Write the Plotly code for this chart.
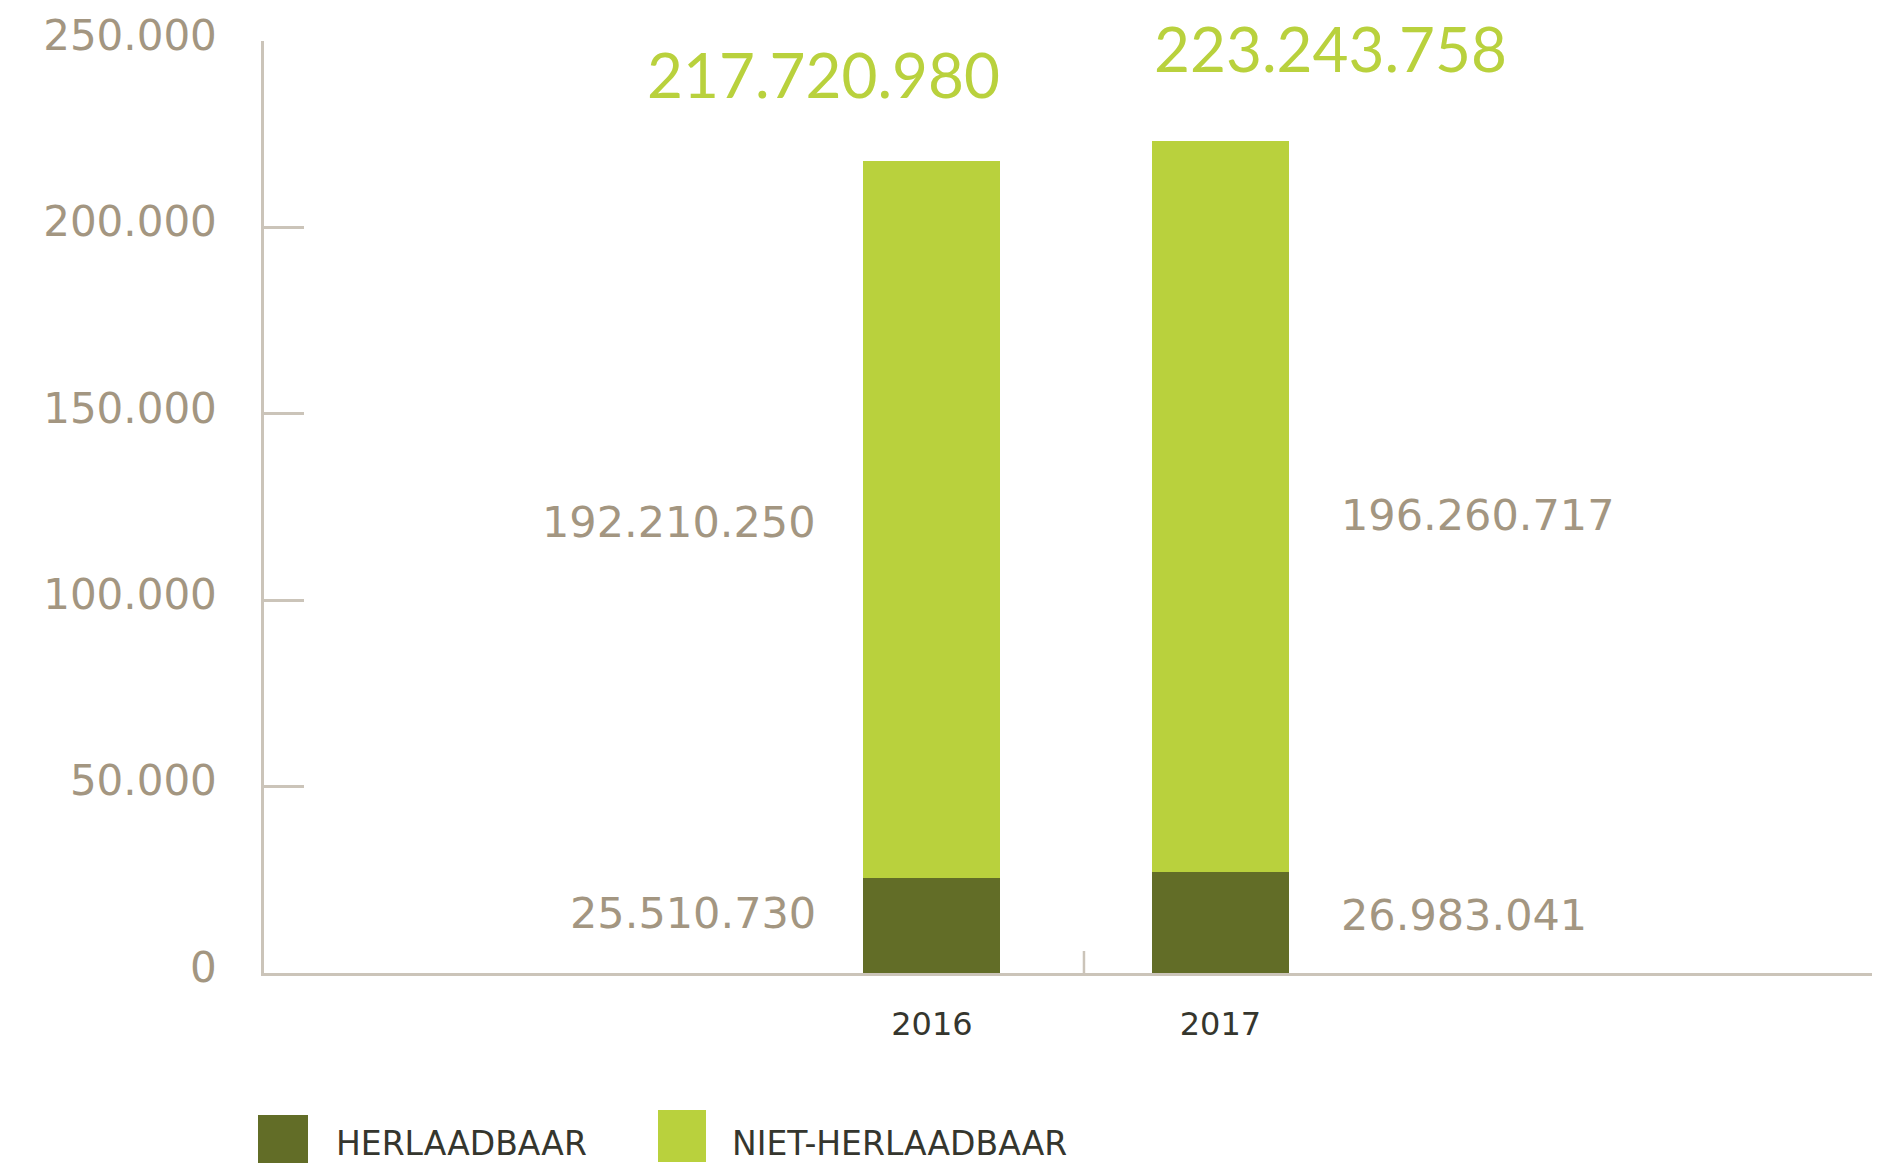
import plotly.graph_objects as go

# ---- data ----
years = ["2016", "2017"]
herlaadbaar = [25510730, 26983041]
niet_herlaadbaar = [192210250, 196260717]
totals = [217720980, 223243758]
series_names = ["HERLAADBAAR", "NIET-HERLAADBAAR"]
y_tickvals = [0, 50e6, 100e6, 150e6, 200e6, 250e6]
y_ticktext = ["0", "50.000", "100.000", "150.000", "200.000", "250.000"]

# ---- style ----
OFF = 8  # browser body margin
W, H = 1880 - OFF, 1166 - OFF
L, R, T = 264 - OFF, 0, 41 - OFF
B = H - T - 932
DARK = "#626d27"
LIGHT = "#b9d13d"
TAUPE = "#a39681"
AXIS = "#cbc4b9"
TEXT_DARK = "#35362e"
NUM_FONT = "DejaVu Sans"
TOTAL_FONT = "Lato"


def fmt(v):
    return f"{v:,}".replace(",", ".")


def px_x(px):
    return (px - OFF - L) / (W - L - R)


def px_y(py):
    return (H - B - (py - OFF)) / (H - T - B)


fig = go.Figure()
fig.add_bar(x=years, y=herlaadbaar, name=series_names[0], marker=dict(color=DARK, line=dict(width=0)),
            width=0.475, showlegend=False, hoverinfo="skip")
fig.add_bar(x=years, y=niet_herlaadbaar, name=series_names[1], marker=dict(color=LIGHT, line=dict(width=0)),
            width=0.475, showlegend=False, hoverinfo="skip")

annotations = []
seg_xshift = [-114, 119]
seg_anchor = ["right", "left"]
low_yshift = [12, 8]
high_yshift = [-2, -8]
total_xshift = [-108, 110]
total_yshift = [87, 93]
for i, yr in enumerate(years):
    annotations.append(dict(xref="x", yref="y", x=i, y=herlaadbaar[i] / 2, text=fmt(herlaadbaar[i]),
                            showarrow=False, xanchor=seg_anchor[i], yanchor="middle",
                            xshift=seg_xshift[i], yshift=low_yshift[i],
                            font=dict(family=NUM_FONT, size=43, color=TAUPE)))
    annotations.append(dict(xref="x", yref="y", x=i, y=herlaadbaar[i] + niet_herlaadbaar[i] / 2,
                            text=fmt(niet_herlaadbaar[i]), showarrow=False, xanchor=seg_anchor[i],
                            yanchor="middle", xshift=seg_xshift[i], yshift=high_yshift[i],
                            font=dict(family=NUM_FONT, size=43, color=TAUPE)))
    annotations.append(dict(xref="x", yref="y", x=i, y=totals[i], text=fmt(totals[i]), showarrow=False,
                            xanchor="center", yanchor="middle", xshift=total_xshift[i],
                            yshift=total_yshift[i],
                            font=dict(family=TOTAL_FONT, size=62, color=LIGHT)))

# custom legend (large square swatches)
shapes = []
legend_items = [(series_names[0], DARK, 258, 308, 1115, 1163, 334),
                (series_names[1], LIGHT, 658, 706, 1110, 1162, 730)]
for name, col, x0, x1, y0, y1, tx in legend_items:
    shapes.append(dict(type="rect", xref="paper", yref="paper", x0=px_x(x0), x1=px_x(x1),
                       y0=px_y(y1), y1=px_y(y0), fillcolor=col, line=dict(width=0), layer="above"))
    annotations.append(dict(xref="paper", yref="paper", x=px_x(tx), y=px_y(1143), text=name, showarrow=False,
                            xanchor="left", yanchor="middle",
                            font=dict(family=NUM_FONT, size=33, color=TEXT_DARK)))

# small tick between the two categories
shapes.append(dict(type="line", xref="x", yref="y", x0=0.527, x1=0.527, ysizemode="pixel", yanchor=0,
                   y0=0, y1=22, line=dict(color=AXIS, width=2.5)))

fig.update_layout(
    width=W, height=H,
    margin=dict(l=L, r=R, t=T, b=B),
    paper_bgcolor="white", plot_bgcolor="white",
    barmode="stack",
    showlegend=False,
    annotations=annotations,
    shapes=shapes,
    xaxis=dict(type="category", range=[-2.315, 3.286], showgrid=False, zeroline=False,
               showline=True, linecolor=AXIS, linewidth=2.5, ticks="",
               tickfont=dict(family=NUM_FONT, size=32, color=TEXT_DARK), ticklabelstandoff=21,
               fixedrange=True),
    yaxis=dict(range=[0, 250e6], tickvals=y_tickvals, ticktext=y_ticktext, showgrid=False, zeroline=False,
               showline=True, linecolor=AXIS, linewidth=2.5, ticks="inside", ticklen=40, tickwidth=2.5,
               tickcolor=AXIS, tickfont=dict(family=NUM_FONT, size=42, color=TAUPE),
               ticklabelstandoff=36, ticklabelshift=-6, fixedrange=True),
)

fig.write_html("out.html")
